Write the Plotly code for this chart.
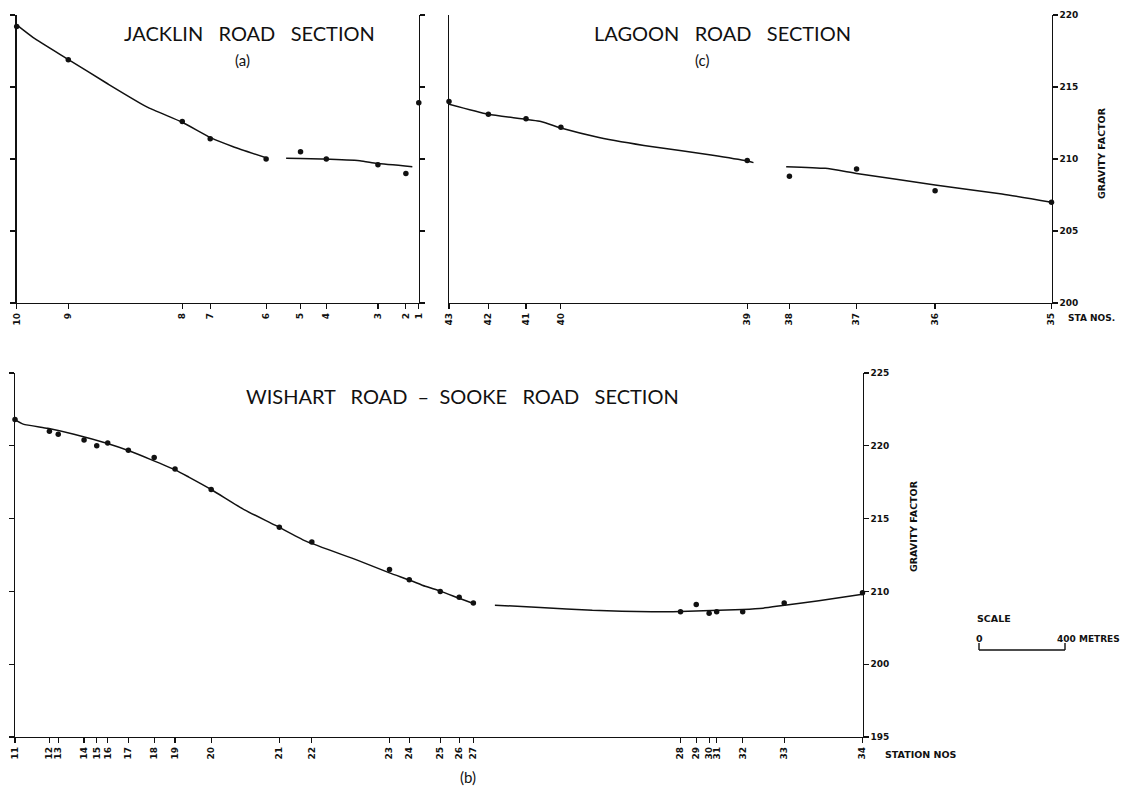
import plotly.graph_objects as go

# ---------------- data ----------------
# (a) Jacklin Road section: station labels, distance along section (m), gravity factor
jack_sta = ["10", "9", "8", "7", "6", "5", "4", "3", "2", "1"]
jack_dist = [0, 240, 770, 900, 1160, 1320, 1440, 1680, 1810, 1870]
jack_obs = [219.2, 216.9, 212.6, 211.4, 210.0, 210.5, 210.0, 209.6, 209.0, 213.9]
jack_fit1_x = [0, 77, 237, 419, 605, 770, 902, 1007, 1167]
jack_fit1_y = [219.31, 218.43, 216.94, 215.26, 213.62, 212.55, 211.48, 210.85, 210.05]
jack_fit2_x = [1253, 1426, 1596, 1674, 1840]
jack_fit2_y = [210.05, 210.0, 209.88, 209.70, 209.47]

# (c) Lagoon Road section
lag_sta = ["43", "42", "41", "40", "39", "38", "37", "36", "35"]
lag_dist = [0, 183, 358, 520, 1386, 1582, 1894, 2259, 2800]
lag_obs = [214.0, 213.1, 212.8, 212.2, 209.9, 208.8, 209.3, 207.8, 207.0]
lag_fit1_x = [0, 183, 427, 520, 697, 947, 1218, 1386, 1415]
lag_fit1_y = [213.8, 213.1, 212.6, 212.15, 211.5, 210.85, 210.28, 209.86, 209.75]
lag_fit2_x = [1567, 1748, 1894, 2259, 2570, 2800]
lag_fit2_y = [209.47, 209.35, 209.0, 208.19, 207.57, 206.99]

# (b) Wishart Road - Sooke Road section
wis_sta = ["11", "12", "13", "14", "15", "16", "17", "18", "19", "20", "21", "22",
           "23", "24", "25", "26", "27", "28", "29", "30", "31", "32", "33", "34"]
wis_dist = [0, 160, 201, 321, 380, 431, 527, 647, 744, 912, 1229, 1380,
            1741, 1833, 1977, 2065, 2131, 3094, 3167, 3227, 3262, 3383, 3576, 3940]
wis_obs = [221.8, 221.0, 220.8, 220.4, 220.0, 220.2, 219.7, 219.2, 218.4, 217.0, 214.4, 213.4,
           211.5, 210.8, 210.0, 209.6, 209.2, 208.6, 209.1, 208.5, 208.6, 208.6, 209.2, 209.9]
wis_fit1_x = [0, 38, 152, 274, 426, 533, 629, 747, 808, 912, 1067, 1209, 1352, 1591,
              1741, 1835, 1907, 1977, 2068, 2131]
wis_fit1_y = [221.8, 221.49, 221.2, 220.79, 220.17, 219.64, 219.07, 218.33, 217.85, 217.0,
              215.6, 214.55, 213.45, 212.15, 211.27, 210.77, 210.35, 210.02, 209.51, 209.17]
wis_fit2_x = [2231, 2442, 2684, 2960, 3094, 3236, 3383, 3478, 3578, 3737, 3940]
wis_fit2_y = [209.05, 208.9, 208.7, 208.6, 208.62, 208.68, 208.76, 208.85, 209.05, 209.35, 209.8]

top_ticks = [200, 205, 210, 215, 220]
top_ticktext = ["200", "205", "210", "215", "220"]
bot_ticks = [200, 205, 210, 215, 220, 225]
bot_ticktext = ["195", "200", "210", "215", "220", "225"]

# ---------------- layout helpers ----------------
W, H = 1122, 787
INK = "#111111"


def xd(p0, p1):
    return [p0 / W, p1 / W]


def yd(q0, q1):
    return [1 - q1 / H, 1 - q0 / H]


def px(p):
    return p / W


def py(q):
    return 1 - q / H


fig = go.Figure()


def add_series(xa, ya, obs_x, obs_y, fits):
    for fx, fy in fits:
        fig.add_trace(go.Scatter(x=fx, y=fy, mode="lines", xaxis=xa, yaxis=ya,
                                 line=dict(color=INK, width=1.5, shape="spline", smoothing=0.5),
                                 hoverinfo="skip", showlegend=False, cliponaxis=False))
    fig.add_trace(go.Scatter(x=obs_x, y=obs_y, mode="markers", xaxis=xa, yaxis=ya,
                             marker=dict(color=INK, size=5.5), showlegend=False, cliponaxis=False))


add_series("x", "y", jack_dist, jack_obs, [(jack_fit1_x, jack_fit1_y), (jack_fit2_x, jack_fit2_y)])
add_series("x2", "y2", lag_dist, lag_obs, [(lag_fit1_x, lag_fit1_y), (lag_fit2_x, lag_fit2_y)])
add_series("x3", "y3", wis_dist, wis_obs, [(wis_fit1_x, wis_fit1_y), (wis_fit2_x, wis_fit2_y)])

tickfont = dict(family="DejaVu Sans", size=9, color=INK, weight="bold")

xcommon = dict(showline=True, linecolor=INK, linewidth=1.3, showgrid=False, zeroline=False,
               ticks="outside", ticklen=5, tickcolor=INK, tickwidth=1.2, tickangle=-90,
               tickfont=tickfont, tickmode="array", fixedrange=True, automargin=False)
ycommon = dict(showline=True, linecolor=INK, linewidth=1.3, showgrid=False, zeroline=False,
               ticks="outside", ticklen=5, tickcolor=INK, tickwidth=1.2,
               tickfont=tickfont, tickmode="array", fixedrange=True, automargin=False)

fig.update_layout(
    template="none",
    width=W, height=H,
    margin=dict(l=0, r=0, t=0, b=0, pad=0, autoexpand=False),
    paper_bgcolor="white", plot_bgcolor="white",
    showlegend=False,
    xaxis=dict(xcommon, domain=xd(16.7, 419), range=[0, 1871], anchor="y",
               tickvals=jack_dist, ticktext=jack_sta),
    yaxis=dict(ycommon, domain=yd(15, 303), range=[200, 220], anchor="x",
               tickvals=top_ticks, showticklabels=False, mirror="ticks"),
    xaxis2=dict(xcommon, domain=xd(449, 1051.5), range=[0, 2800], anchor="y2",
                tickvals=lag_dist, ticktext=lag_sta),
    yaxis2=dict(ycommon, domain=yd(15, 303), range=[200, 220], anchor="x2", side="right",
                tickvals=top_ticks, ticktext=top_ticktext, mirror=True),
    xaxis3=dict(xcommon, domain=xd(15, 862.5), range=[0, 3940], anchor="y3",
                tickvals=wis_dist, ticktext=wis_sta),
    yaxis3=dict(ycommon, domain=yd(373, 737), range=[200, 225], anchor="x3", side="right",
                tickvals=bot_ticks, ticktext=bot_ticktext, mirror="ticks"),
)

annotations = []


def ann(text, x, y, size, xanchor="center", angle=0, family="Lato", weight="normal"):
    annotations.append(dict(text=text, x=px(x), y=py(y), xref="paper", yref="paper",
                            xanchor=xanchor, yanchor="middle", showarrow=False, textangle=angle,
                            font=dict(family=family, size=size, color=INK, weight=weight)))


NB = "\u00a0\u00a0\u00a0"
ann("JACKLIN" + NB + "ROAD" + NB + "SECTION", 249, 33, 20)
ann("(a)", 242, 60, 15)
ann("LAGOON" + NB + "ROAD" + NB + "SECTION", 722, 33, 20)
ann("(c)", 702, 60, 15)
ann("WISHART" + NB + "ROAD" + "\u00a0\u00a0\u2013\u00a0\u00a0" + "SOOKE" + NB + "ROAD" + NB + "SECTION",
    462, 396, 20)
ann("(b)", 468, 777, 15)
ann("GRAVITY FACTOR", 1101, 153, 9.5, angle=-90, family="DejaVu Sans", weight="bold")
ann("GRAVITY FACTOR", 913, 526, 9.5, angle=-90, family="DejaVu Sans", weight="bold")
ann("STA NOS.", 1066, 318, 9, xanchor="left", family="DejaVu Sans", weight="bold")
ann("STATION NOS", 883, 754, 9.5, xanchor="left", family="DejaVu Sans", weight="bold")
ann("SCALE", 975, 618, 9.5, xanchor="left", family="DejaVu Sans", weight="bold")
ann("0", 979, 638, 9.5, family="DejaVu Sans", weight="bold")
ann("400 METRES", 1055, 639, 9, xanchor="left", family="DejaVu Sans", weight="bold")
fig.update_layout(annotations=annotations)

# scale bar
bar = dict(color=INK, width=1.4)
fig.add_shape(type="line", xref="paper", yref="paper", x0=px(979), x1=px(1065), y0=py(650), y1=py(650), line=bar)
fig.add_shape(type="line", xref="paper", yref="paper", x0=px(979), x1=px(979), y0=py(643), y1=py(650), line=bar)
fig.add_shape(type="line", xref="paper", yref="paper", x0=px(1065), x1=px(1065), y0=py(643), y1=py(650), line=bar)

fig.write_html("out.html", config={"displayModeBar": False, "staticPlot": True},
               post_script="document.body.style.margin='0';document.body.style.overflow='hidden';")
